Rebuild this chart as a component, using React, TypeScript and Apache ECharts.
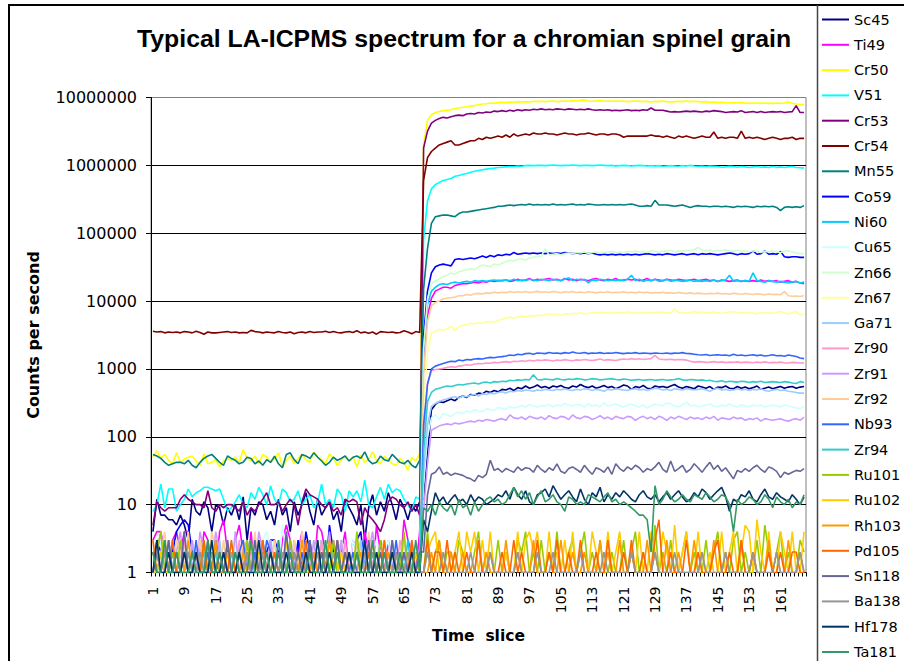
import React, { useEffect, useRef } from "react";
import * as echarts from "echarts";

// Time slices 1..167 (background acquisition up to slice 69, ablation from slice 70)
const timeSlices: string[] = Array.from({ length: 167 }, (_, i) => String(i + 1));

const sc45 = [
  4, 12, 7, 7, 6, 6, 5, 7, 5, 3,
  12, 8, 7, 11, 9, 4, 10, 9, 5, 9,
  7, 10, 6, 13, 3, 9, 7, 11, 10, 6,
  8, 5, 12, 7, 9, 4, 11, 7, 10, 15,
  8, 5, 12, 7, 9, 11, 6, 8, 4, 12,
  9, 7, 5, 10, 3, 9, 14, 7, 11, 8,
  15, 10, 6, 12, 9, 6, 10, 8, 11,
  12, 60, 250, 300, 330, 320, 340, 360, 340, 380,
  400, 380, 420, 410, 440, 430, 470, 450, 480, 460,
  500, 490, 520, 480, 530, 510, 560, 520, 540, 580,
  530, 550, 520, 560, 540, 570, 530, 520, 560, 540,
  590, 550, 530, 560, 520, 540, 570, 530, 550, 510,
  540, 580, 560, 500, 550, 530, 570, 520, 510, 560,
  540, 550, 530, 560, 590, 540, 520, 550, 530, 510,
  560, 540, 520, 550, 500, 540, 530, 560, 520, 510,
  550, 520, 540, 510, 530, 560, 500, 520, 540, 510,
  530, 550, 520, 540, 550, 520, 540, 550,
];

const ti49 = [
  3, 4, 4, 2, 1, 3, 4, 2, 4, 4,
  1, 2, 1, 4, 3, 1, 1, 4, 6, 2,
  1, 3, 5, 2, 1, 4, 1, 2, 3, 1,
  1, 2, 1, 3, 5, 3, 1, 2, 4, 1,
  2, 1, 5, 4, 2, 1, 3, 1, 2, 4,
  1, 3, 2, 1, 4, 2, 1, 5, 2, 1,
  3, 1, 2, 1, 6, 3, 2, 1, 4,
  1500, 6000, 11000, 14000, 15000, 16000, 16000, 15500, 17000, 17500,
  18000, 18000, 18500, 19000, 18500, 19500, 19000, 20000, 19500, 20000,
  20000, 20500, 19500, 20000, 21000, 20000, 20500, 21500, 20000, 21000,
  20500, 21000, 21500, 20500, 21000, 20000, 21500, 20500, 21000, 20000,
  21000, 20500, 20000, 21000, 21500, 20500, 20000, 21000, 20500, 21500,
  20000, 20500, 21000, 20500, 21000, 20000, 20500, 21500, 20000, 21000,
  20500, 20000, 21000, 20500, 20000, 21000, 20500, 20000, 20500, 21000,
  20000, 20500, 21000, 20000, 20500, 19500, 20500, 20000, 19500, 20000,
  20500, 19500, 20000, 19500, 20000, 19500, 20500, 19500, 20000, 19500,
  20000, 19000, 19500, 20000, 19000, 19500, 18500, 18000,
];

const cr50 = [
  50, 62, 48, 55, 45, 40, 58, 42, 47, 50,
  52, 44, 38, 56, 40, 42, 46, 36, 44, 48,
  45, 50, 42, 65, 48, 44, 52, 40, 55, 50,
  42, 47, 58, 36, 45, 52, 40, 48, 55, 46,
  42, 60, 50, 46, 40, 56, 48, 38, 45, 52,
  44, 50, 36, 54, 42, 47, 60, 45, 40, 52,
  46, 40, 38, 48, 42, 32, 50, 44, 56,
  2.0e6, 4.6e6, 5.6e6, 6.0e6, 6.2e6, 6.4e6, 6.5e6, 6.6e6, 6.9e6, 7.0e6,
  7.2e6, 7.3e6, 7.5e6, 7.6e6, 7.8e6, 8.0e6, 8.1e6, 8.3e6, 8.2e6, 8.4e6,
  8.5e6, 8.4e6, 8.6e6, 8.5e6, 8.7e6, 8.6e6, 8.7e6, 8.6e6, 8.8e6, 8.7e6,
  8.8e6, 8.7e6, 8.8e6, 8.9e6, 8.7e6, 8.8e6, 8.9e6, 8.8e6, 9.0e6, 8.9e6,
  9.1e6, 9.2e6, 8.9e6, 8.8e6, 8.9e6, 9.0e6, 8.8e6, 8.9e6, 8.8e6, 8.9e6,
  8.8e6, 8.9e6, 8.7e6, 8.8e6, 8.9e6, 8.8e6, 8.7e6, 8.8e6, 8.6e6, 8.8e6,
  8.7e6, 8.9e6, 8.7e6, 8.6e6, 8.7e6, 8.8e6, 8.7e6, 8.9e6, 8.7e6, 8.8e6,
  8.7e6, 8.6e6, 8.7e6, 8.5e6, 8.6e6, 8.4e6, 8.5e6, 8.4e6, 8.3e6, 8.4e6,
  8.3e6, 8.4e6, 8.3e6, 8.2e6, 8.3e6, 8.3e6, 8.2e6, 8.3e6, 8.2e6, 8.2e6,
  8.3e6, 8.2e6, 8.3e6, 8.6e6, 8.2e6, 8.0e6, 7.9e6, 7.9e6,
];

const v51 = [
  8, 10, 20, 9, 17, 17, 8, 10, 12, 17,
  13, 15, 16, 18, 18, 17, 16, 17, 12, 8,
  9, 11, 14, 10, 9, 15, 12, 18, 14, 10,
  19, 12, 10, 17, 15, 11, 12, 16, 10, 12,
  14, 9, 11, 20, 10, 12, 9, 17, 14, 8,
  16, 13, 16, 11, 23, 10, 9, 13, 18, 12,
  20, 15, 17, 16, 12, 10, 8, 13, 12,
  8e4, 3.0e5, 4.5e5, 5.2e5, 5.6e5, 6.0e5, 6.2e5, 6.4e5, 6.9e5, 7.1e5,
  7.4e5, 7.6e5, 7.9e5, 8.2e5, 8.4e5, 8.6e5, 8.8e5, 9.0e5, 9.1e5, 9.3e5,
  9.4e5, 9.5e5, 9.6e5, 9.6e5, 9.8e5, 9.7e5, 9.9e5, 1.0e6, 9.9e5, 1.0e6,
  1.0e6, 9.9e5, 1.0e6, 1.01e6, 1.0e6, 9.9e5, 1.0e6, 1.0e6, 1.01e6, 1.0e6,
  9.9e5, 1.0e6, 1.0e6, 9.9e5, 1.0e6, 1.01e6, 1.0e6, 9.9e5, 1.0e6, 9.8e5,
  9.9e5, 1.0e6, 9.9e5, 9.8e5, 9.9e5, 1.0e6, 9.9e5, 9.8e5, 9.9e5, 9.8e5,
  9.9e5, 9.7e5, 9.8e5, 9.9e5, 9.8e5, 9.7e5, 9.9e5, 9.8e5, 1.0e6, 9.8e5,
  9.7e5, 9.8e5, 9.6e5, 9.8e5, 9.7e5, 9.6e5, 9.4e5, 9.5e5, 9.7e5, 9.6e5,
  9.4e5, 9.6e5, 9.5e5, 9.3e5, 9.5e5, 9.6e5, 9.4e5, 9.5e5, 9.3e5, 9.6e5,
  9.4e5, 9.5e5, 9.3e5, 9.5e5, 9.6e5, 9.3e5, 9.2e5, 9.1e5,
];

const cr53 = [
  5, 11, 9, 8, 9, 9, 9, 12, 14, 12,
  11, 10, 10, 9, 16, 9, 8, 10, 9, 10,
  10, 9, 8, 11, 7, 9, 8, 10, 12, 15,
  10, 10, 11, 8, 10, 12, 10, 5, 11, 17,
  14, 13, 12, 10, 9, 11, 8, 9, 7, 12,
  11, 12, 11, 5, 9, 7, 6, 5, 4, 6,
  11, 13, 12, 10, 9, 11, 8, 10, 7,
  1.8e6, 3.2e6, 4.2e6, 4.6e6, 4.9e6, 5.1e6, 5.0e6, 5.2e6, 5.4e6, 5.5e6,
  5.4e6, 5.7e6, 5.8e6, 5.7e6, 6.0e6, 5.9e6, 6.1e6, 6.0e6, 6.3e6, 6.2e6,
  6.4e6, 6.2e6, 6.5e6, 6.3e6, 6.6e6, 6.4e6, 6.6e6, 6.5e6, 6.7e6, 6.6e6,
  6.8e6, 6.6e6, 6.7e6, 6.6e6, 6.8e6, 6.7e6, 6.6e6, 6.8e6, 6.7e6, 6.6e6,
  6.7e6, 6.6e6, 6.8e6, 6.6e6, 6.5e6, 6.6e6, 6.5e6, 6.6e6, 6.4e6, 6.5e6,
  6.4e6, 6.5e6, 6.6e6, 6.4e6, 6.5e6, 6.4e6, 6.6e6, 6.5e6, 7.0e6, 6.5e6,
  6.5e6, 6.5e6, 6.3e6, 6.1e6, 6.2e6, 6.1e6, 6.2e6, 6.3e6, 6.2e6, 6.3e6,
  6.2e6, 6.1e6, 6.3e6, 6.2e6, 6.4e6, 6.3e6, 6.2e6, 6.0e6, 6.1e6, 6.2e6,
  6.1e6, 6.4e6, 6.0e6, 6.1e6, 6.2e6, 6.0e6, 6.2e6, 6.0e6, 6.1e6, 6.2e6,
  6.1e6, 6.2e6, 6.0e6, 6.1e6, 6.2e6, 7.6e6, 6.0e6, 6.0e6,
];

const cr54 = [
  3600, 3500, 3550, 3400, 3500, 3450, 3500, 3400, 3550, 3500,
  3400, 3600, 3450, 3250, 3500, 3400, 3400, 3450, 3500, 3550,
  3450, 3500, 3400, 3450, 3400, 3700, 3550, 3500, 3400, 3500,
  3450, 3400, 3550, 3450, 3400, 3500, 3300, 3450, 3500, 3400,
  3550, 3450, 3500, 3500, 3600, 3450, 3550, 3450, 3400, 3500,
  3550, 3450, 3650, 3400, 3500, 3350, 3500, 3250, 3550, 3500,
  3450, 3500, 3400, 3450, 3650, 3500, 3300, 3550, 3450,
  6e5, 1.3e6, 1.6e6, 1.8e6, 2.0e6, 2.1e6, 2.2e6, 2.3e6, 2.0e6, 2.0e6,
  2.1e6, 2.2e6, 2.3e6, 2.3e6, 2.5e6, 2.4e6, 2.6e6, 2.5e6, 2.6e6, 2.7e6,
  2.6e6, 2.8e6, 2.6e6, 2.9e6, 2.7e6, 2.8e6, 2.9e6, 2.8e6, 3.0e6, 2.9e6,
  2.9e6, 3.0e6, 2.9e6, 2.9e6, 2.8e6, 2.9e6, 3.0e6, 2.9e6, 2.9e6, 2.8e6,
  2.9e6, 2.9e6, 3.0e6, 2.9e6, 2.8e6, 2.9e6, 2.9e6, 2.8e6, 2.9e6, 2.9e6,
  2.8e6, 2.6e6, 2.7e6, 2.7e6, 2.7e6, 2.7e6, 2.7e6, 2.7e6, 2.8e6, 2.7e6,
  2.7e6, 2.6e6, 2.7e6, 2.6e6, 2.5e6, 2.7e6, 2.6e6, 2.7e6, 2.6e6, 2.5e6,
  2.6e6, 2.7e6, 2.6e6, 2.6e6, 3.1e6, 2.5e6, 2.6e6, 2.5e6, 2.6e6, 2.6e6,
  2.5e6, 3.2e6, 2.5e6, 2.6e6, 2.5e6, 2.6e6, 2.5e6, 2.4e6, 2.5e6, 2.6e6,
  2.5e6, 2.4e6, 2.5e6, 2.5e6, 2.6e6, 2.4e6, 2.5e6, 2.5e6,
];

const mn55 = [
  55, 52, 48, 42, 38, 40, 42, 42, 40, 45,
  38, 35, 42, 48, 52, 55, 48, 42, 38, 52,
  48, 45, 40, 42, 50, 48, 40, 44, 38, 46,
  42, 52, 40, 35, 55, 58, 46, 40, 55, 52,
  48, 58, 50, 44, 38, 42, 50, 45, 48, 52,
  44, 50, 52, 48, 60, 45, 40, 42, 52, 46,
  44, 55, 48, 42, 40, 45, 38, 35, 45,
  1.5e4, 6e4, 1.4e5, 1.75e5, 1.8e5, 1.85e5, 1.85e5, 1.8e5, 1.75e5, 1.95e5,
  2.05e5, 2.05e5, 2.1e5, 2.15e5, 2.2e5, 2.25e5, 2.3e5, 2.35e5, 2.4e5, 2.5e5,
  2.5e5, 2.55e5, 2.6e5, 2.55e5, 2.6e5, 2.65e5, 2.6e5, 2.7e5, 2.6e5, 2.65e5,
  2.6e5, 2.65e5, 2.6e5, 2.7e5, 2.6e5, 2.65e5, 2.6e5, 2.65e5, 2.7e5, 2.6e5,
  2.65e5, 2.6e5, 2.7e5, 2.65e5, 2.6e5, 2.6e5, 2.65e5, 2.6e5, 2.65e5, 2.6e5,
  2.65e5, 2.6e5, 2.65e5, 2.7e5, 2.6e5, 2.5e5, 2.5e5, 2.55e5, 2.5e5, 3.05e5,
  2.6e5, 2.6e5, 2.6e5, 2.55e5, 2.5e5, 2.55e5, 2.6e5, 2.5e5, 2.4e5, 2.5e5,
  2.55e5, 2.5e5, 2.5e5, 2.45e5, 2.5e5, 2.5e5, 2.45e5, 2.5e5, 2.45e5, 2.4e5,
  2.5e5, 2.45e5, 2.5e5, 2.45e5, 2.4e5, 2.5e5, 2.45e5, 2.5e5, 2.45e5, 2.5e5,
  2.4e5, 2.15e5, 2.4e5, 2.45e5, 2.4e5, 2.45e5, 2.4e5, 2.55e5,
];

const co59 = [
  1, 3, 2, 1, 1, 2, 4, 5, 6, 5,
  2, 1, 3, 1, 2, 1, 1, 2, 1, 1,
  1, 2, 1, 1, 3, 1, 2, 1, 1, 2,
  3, 3, 2, 1, 1, 2, 1, 3, 1, 4,
  2, 1, 1, 3, 1, 5, 2, 1, 3, 1,
  2, 1, 3, 4, 1, 2, 2, 1, 3, 1,
  2, 1, 1, 2, 1, 1, 2, 1, 1,
  3000, 1.4e4, 2.6e4, 3.2e4, 3.4e4, 3.5e4, 3.4e4, 3.3e4, 4.1e4, 4.2e4,
  4.1e4, 4.2e4, 4.3e4, 4.2e4, 4.4e4, 4.6e4, 4.4e4, 4.7e4, 4.5e4, 4.8e4,
  4.7e4, 4.9e4, 4.8e4, 5.2e4, 4.9e4, 5.0e4, 5.1e4, 5.0e4, 5.1e4, 5.0e4,
  5.1e4, 5.0e4, 5.1e4, 5.0e4, 5.1e4, 5.0e4, 5.2e4, 5.1e4, 5.0e4, 5.1e4,
  5.0e4, 5.1e4, 5.0e4, 5.1e4, 4.9e4, 4.8e4, 4.9e4, 4.8e4, 4.9e4, 4.8e4,
  4.9e4, 4.8e4, 4.9e4, 4.8e4, 4.9e4, 4.8e4, 4.9e4, 5.0e4, 4.9e4, 4.8e4,
  4.9e4, 4.8e4, 5.0e4, 4.9e4, 4.8e4, 4.9e4, 5.0e4, 4.8e4, 4.9e4, 5.0e4,
  4.8e4, 5.0e4, 4.9e4, 5.0e4, 4.9e4, 4.8e4, 4.9e4, 5.0e4, 5.1e4, 5.0e4,
  4.8e4, 5.0e4, 4.9e4, 5.0e4, 5.5e4, 4.9e4, 5.0e4, 5.5e4, 4.9e4, 5.0e4,
  4.9e4, 5.4e4, 4.5e4, 4.4e4, 4.5e4, 4.5e4, 4.4e4, 4.4e4,
];

const ni60 = [
  1, 2, 1, 1, 3, 1, 1, 2, 1, 1,
  2, 1, 1, 1, 2, 1, 3, 1, 1, 2,
  1, 1, 2, 1, 1, 1, 2, 1, 3, 1,
  1, 2, 1, 1, 1, 2, 1, 1, 2, 1,
  3, 1, 1, 2, 1, 1, 1, 2, 1, 1,
  2, 1, 1, 3, 1, 2, 1, 1, 1, 2,
  1, 1, 2, 1, 1, 3, 1, 1, 2,
  2000, 9000, 1.4e4, 1.6e4, 1.75e4, 1.8e4, 1.75e4, 1.85e4, 1.9e4, 1.85e4,
  1.9e4, 1.95e4, 1.9e4, 2.0e4, 1.95e4, 2.0e4, 1.95e4, 2.0e4, 2.05e4, 2.0e4,
  2.0e4, 2.05e4, 2.0e4, 2.1e4, 2.0e4, 2.05e4, 2.0e4, 2.1e4, 2.05e4, 2.0e4,
  2.1e4, 2.05e4, 2.0e4, 2.1e4, 2.05e4, 2.0e4, 2.1e4, 2.2e4, 2.0e4, 2.1e4,
  2.05e4, 2.1e4, 1.85e4, 2.05e4, 2.0e4, 2.1e4, 2.05e4, 2.0e4, 2.05e4, 2.0e4,
  2.05e4, 2.0e4, 2.1e4, 2.4e4, 2.0e4, 2.1e4, 1.95e4, 2.05e4, 2.0e4, 2.1e4,
  1.95e4, 2.0e4, 2.1e4, 1.95e4, 2.05e4, 2.0e4, 1.95e4, 2.0e4, 2.05e4, 1.95e4,
  2.0e4, 1.95e4, 2.0e4, 1.95e4, 2.05e4, 1.95e4, 2.0e4, 2.05e4, 2.4e4, 1.95e4,
  2.0e4, 1.95e4, 2.0e4, 1.95e4, 2.6e4, 2.0e4, 1.95e4, 1.9e4, 2.0e4, 1.95e4,
  1.9e4, 1.95e4, 1.9e4, 1.85e4, 1.9e4, 1.95e4, 1.85e4, 1.9e4,
];

const cu65 = [
  1, 2, 3, 1, 2, 1, 3, 2, 1, 1,
  2, 1, 3, 1, 2, 3, 1, 1, 2, 1,
  3, 2, 1, 2, 1, 3, 1, 2, 3, 4,
  2, 3, 1, 5, 2, 3, 1, 2, 1, 3,
  1, 2, 3, 1, 2, 3, 1, 1, 3, 2,
  1, 3, 2, 1, 3, 1, 2, 3, 1, 2,
  3, 1, 1, 2, 3, 1, 2, 1, 1,
  20, 100, 190, 210, 180, 220, 210, 200, 220, 230,
  220, 240, 230, 250, 240, 235, 260, 250, 245, 270,
  260, 255, 280, 265, 275, 290, 275, 300, 285, 275,
  290, 285, 300, 275, 295, 285, 310, 295, 285, 300,
  295, 275, 305, 285, 295, 275, 320, 285, 295, 305,
  285, 275, 295, 305, 285, 275, 295, 265, 285, 305,
  295, 285, 315, 305, 285, 275, 295, 325, 285, 295,
  275, 285, 295, 305, 285, 275, 295, 285, 305, 285,
  275, 295, 285, 275, 295, 285, 295, 275, 285, 295,
  285, 275, 295, 285, 275, 265, 260, 280,
];

const zn66 = [
  2, 1, 1, 3, 1, 2, 1, 1, 2, 3,
  1, 1, 2, 1, 3, 1, 2, 1, 1, 2,
  1, 3, 1, 1, 2, 1, 1, 3, 1, 2,
  1, 1, 2, 1, 3, 1, 2, 1, 1, 2,
  1, 2, 1, 3, 1, 1, 2, 1, 3, 1,
  2, 1, 1, 2, 1, 3, 1, 1, 2, 1,
  1, 2, 1, 1, 3, 1, 2, 1, 1,
  2000, 1.1e4, 1.8e4, 2.0e4, 2.1e4, 2.3e4, 2.4e4, 2.6e4, 2.5e4, 2.7e4,
  2.8e4, 2.9e4, 3.0e4, 2.9e4, 3.2e4, 3.4e4, 3.3e4, 3.2e4, 3.5e4, 3.4e4,
  3.6e4, 3.8e4, 4.0e4, 3.9e4, 4.1e4, 4.2e4, 4.0e4, 4.3e4, 4.4e4, 4.5e4,
  4.6e4, 5.9e4, 4.8e4, 4.9e4, 5.0e4, 4.8e4, 5.0e4, 5.1e4, 5.0e4, 5.2e4,
  5.1e4, 5.3e4, 5.0e4, 5.2e4, 5.3e4, 5.1e4, 5.2e4, 5.3e4, 5.4e4, 5.2e4,
  5.3e4, 5.2e4, 5.4e4, 5.3e4, 5.5e4, 5.3e4, 5.4e4, 5.2e4, 5.5e4, 5.4e4,
  5.3e4, 5.5e4, 5.4e4, 5.6e4, 5.3e4, 5.5e4, 5.4e4, 5.6e4, 5.5e4, 5.7e4,
  6.2e4, 5.6e4, 5.5e4, 5.7e4, 5.4e4, 5.6e4, 5.5e4, 5.7e4, 5.5e4, 5.4e4,
  5.6e4, 5.4e4, 5.5e4, 5.3e4, 5.5e4, 5.4e4, 5.2e4, 5.4e4, 5.3e4, 5.5e4,
  5.3e4, 5.2e4, 5.4e4, 5.5e4, 5.3e4, 5.1e4, 5.0e4, 5.0e4,
];

const zn67 = [
  1, 1, 2, 1, 1, 1, 2, 1, 1, 1,
  1, 2, 1, 1, 1, 1, 2, 1, 1, 1,
  2, 1, 1, 1, 1, 2, 1, 1, 1, 1,
  1, 1, 2, 1, 1, 1, 1, 2, 1, 1,
  1, 2, 1, 1, 1, 1, 1, 2, 1, 1,
  1, 1, 2, 1, 1, 2, 1, 1, 1, 1,
  2, 1, 1, 1, 2, 1, 1, 1, 1,
  300, 1800, 3400, 3600, 3800, 3700, 3900, 4300, 3700, 4200,
  4400, 4500, 4700, 4600, 4800, 4700, 4900, 5000, 4900, 5200,
  5400, 5600, 5800, 5600, 5900, 6000, 5800, 6100, 6000, 6200,
  6100, 6300, 6500, 6300, 6400, 6200, 6500, 6400, 6600, 6500,
  6700, 6500, 6600, 6800, 6700, 6900, 6700, 6800, 6600, 6700,
  6800, 6700, 6900, 6700, 6600, 6800, 6700, 6600, 6800, 6700,
  6900, 6800, 6700, 6600, 7700, 6700, 6800, 6600, 6800, 7000,
  6700, 6900, 6800, 6700, 6900, 6700, 6600, 6800, 6900, 7000,
  6800, 6700, 6600, 6800, 6700, 6500, 6800, 6600, 6700, 6600,
  6800, 7000, 6700, 6500, 6800, 7000, 6200, 6500,
];

const ga71 = [
  1, 1, 2, 1, 3, 1, 1, 2, 1, 1,
  3, 1, 2, 1, 1, 2, 1, 3, 1, 1,
  2, 1, 1, 1, 2, 1, 3, 1, 1, 2,
  1, 1, 3, 1, 2, 1, 1, 2, 1, 3,
  1, 2, 1, 1, 3, 1, 1, 2, 1, 1,
  2, 1, 1, 3, 1, 2, 1, 1, 2, 1,
  1, 3, 1, 2, 1, 1, 2, 1, 1,
  30, 150, 280, 310, 330, 350, 360, 380, 390, 370,
  400, 390, 410, 420, 400, 430, 420, 440, 430, 450,
  460, 440, 470, 460, 480, 470, 490, 480, 470, 490,
  480, 500, 490, 480, 500, 490, 510, 490, 480, 500,
  490, 510, 500, 480, 500, 490, 470, 500, 490, 510,
  500, 490, 480, 500, 510, 490, 500, 480, 500, 520,
  510, 490, 500, 480, 510, 500, 490, 510, 500, 490,
  500, 510, 490, 470, 500, 520, 490, 500, 480, 490,
  510, 490, 500, 480, 500, 490, 510, 480, 470, 490,
  500, 480, 490, 470, 460, 450, 440, 440,
];

const zr90 = [
  1, 2, 1, 3, 1, 1, 2, 1, 3, 1,
  1, 2, 1, 1, 3, 1, 2, 1, 1, 2,
  1, 1, 3, 1, 1, 2, 1, 1, 2, 1,
  3, 1, 1, 2, 1, 1, 3, 1, 2, 1,
  1, 2, 1, 3, 1, 1, 1, 2, 1, 3,
  1, 1, 2, 1, 1, 3, 1, 2, 1, 1,
  2, 1, 1, 3, 1, 2, 1, 1, 2,
  100, 600, 950, 980, 1000, 1020, 1050, 1080, 1060, 1100,
  1120, 1150, 1130, 1180, 1200, 1190, 1220, 1210, 1250, 1230,
  1260, 1280, 1250, 1300, 1290, 1320, 1300, 1340, 1310, 1350,
  1330, 1360, 1340, 1310, 1350, 1330, 1370, 1340, 1320, 1360,
  1340, 1380, 1350, 1330, 1360, 1400, 1340, 1370, 1350, 1330,
  1370, 1400, 1380, 1420, 1390, 1410, 1380, 1400, 1420, 1580,
  1400, 1380, 1370, 1390, 1360, 1380, 1370, 1350, 1300, 1260,
  1280, 1270, 1250, 1260, 1280, 1250, 1270, 1240, 1260, 1250,
  1270, 1240, 1260, 1250, 1230, 1260, 1240, 1270, 1230, 1250,
  1240, 1260, 1230, 1220, 1250, 1240, 1220, 1230,
];

const zr91 = [
  1, 2, 4, 1, 3, 1, 2, 4, 1, 1,
  3, 1, 4, 2, 1, 1, 4, 2, 1, 3,
  1, 4, 1, 2, 3, 1, 1, 4, 2, 1,
  3, 1, 2, 1, 4, 1, 3, 1, 2, 1,
  1, 3, 1, 2, 1, 4, 1, 1, 3, 1,
  2, 1, 3, 1, 1, 2, 4, 1, 2, 1,
  1, 3, 1, 2, 1, 1, 3, 1, 2,
  8, 40, 125, 135, 145, 150, 155, 150, 160, 155,
  160, 165, 170, 165, 175, 170, 180, 175, 170, 180,
  185, 175, 210, 190, 185, 195, 180, 200, 190, 185,
  195, 180, 205, 190, 185, 200, 195, 180, 210, 190,
  185, 200, 195, 180, 190, 205, 185, 195, 180, 200,
  190, 185, 200, 195, 175, 190, 200, 185, 195, 180,
  200, 190, 175, 195, 185, 200, 190, 180, 195, 185,
  190, 180, 195, 185, 200, 175, 190, 185, 180, 195,
  185, 190, 175, 185, 180, 190, 170, 185, 180, 175,
  180, 185, 175, 170, 180, 185, 175, 195,
];

const zr92 = [
  3, 1, 2, 4, 1, 1, 3, 2, 1, 4,
  1, 2, 3, 1, 1, 4, 2, 1, 3, 1,
  2, 1, 1, 3, 2, 1, 4, 1, 1, 2,
  1, 3, 1, 2, 1, 1, 3, 1, 4, 1,
  2, 1, 3, 1, 1, 2, 1, 3, 1, 2,
  1, 1, 3, 2, 1, 4, 1, 1, 2, 3,
  1, 2, 1, 1, 3, 1, 2, 1, 1,
  800, 5000, 8500, 9500, 1.0e4, 1.08e4, 1.1e4, 1.12e4, 1.15e4, 1.2e4,
  1.2e4, 1.25e4, 1.22e4, 1.28e4, 1.3e4, 1.27e4, 1.32e4, 1.3e4, 1.35e4, 1.32e4,
  1.35e4, 1.33e4, 1.38e4, 1.34e4, 1.37e4, 1.35e4, 1.38e4, 1.34e4, 1.36e4, 1.39e4,
  1.35e4, 1.37e4, 1.34e4, 1.38e4, 1.36e4, 1.33e4, 1.37e4, 1.35e4, 1.38e4, 1.34e4,
  1.36e4, 1.33e4, 1.37e4, 1.35e4, 1.32e4, 1.36e4, 1.34e4, 1.37e4, 1.33e4, 1.35e4,
  1.34e4, 1.37e4, 1.33e4, 1.35e4, 1.32e4, 1.36e4, 1.33e4, 1.35e4, 1.31e4, 1.34e4,
  1.32e4, 1.35e4, 1.31e4, 1.33e4, 1.3e4, 1.34e4, 1.31e4, 1.29e4, 1.32e4, 1.28e4,
  1.31e4, 1.29e4, 1.27e4, 1.3e4, 1.28e4, 1.31e4, 1.27e4, 1.29e4, 1.26e4, 1.3e4,
  1.28e4, 1.26e4, 1.29e4, 1.27e4, 1.25e4, 1.28e4, 1.26e4, 1.24e4, 1.27e4, 1.25e4,
  1.26e4, 1.24e4, 1.38e4, 1.2e4, 1.18e4, 1.19e4, 1.17e4, 1.2e4,
];

const nb93 = [
  2, 1, 1, 3, 1, 2, 1, 1, 2, 1,
  1, 3, 1, 1, 2, 1, 3, 1, 2, 1,
  1, 1, 2, 3, 1, 1, 2, 1, 1, 3,
  2, 1, 1, 2, 1, 3, 1, 1, 2, 1,
  3, 1, 2, 1, 1, 2, 1, 3, 1, 1,
  1, 2, 1, 1, 3, 1, 2, 1, 1, 2,
  1, 1, 3, 1, 2, 1, 1, 2, 1,
  150, 600, 1000, 1100, 1150, 1200, 1250, 1300, 1280, 1350,
  1320, 1380, 1360, 1400, 1420, 1400, 1450, 1480, 1460, 1500,
  1520, 1550, 1600, 1580, 1650, 1620, 1680, 1700, 1650, 1720,
  1700, 1680, 1750, 1700, 1720, 1680, 1740, 1700, 1780, 1720,
  1700, 1750, 1680, 1720, 1700, 1740, 1690, 1720, 1700, 1750,
  1710, 1680, 1720, 1700, 1740, 1690, 1710, 1700, 1680, 1720,
  1700, 1690, 1720, 1680, 1710, 1700, 1740, 1690, 1680, 1650,
  1620, 1600, 1630, 1580, 1600, 1620, 1590, 1600, 1560, 1640,
  1580, 1600, 1560, 1590, 1620, 1570, 1600, 1550, 1580, 1620,
  1560, 1580, 1540, 1600, 1560, 1520, 1450, 1420,
];

const zr94 = [
  1, 1, 2, 1, 1, 1, 2, 1, 1, 2,
  1, 1, 1, 2, 1, 1, 2, 1, 1, 1,
  2, 1, 1, 1, 2, 1, 1, 1, 2, 1,
  1, 2, 1, 1, 1, 1, 2, 1, 1, 2,
  1, 1, 1, 2, 1, 1, 2, 1, 1, 1,
  2, 1, 1, 1, 2, 1, 1, 2, 1, 1,
  1, 2, 1, 1, 1, 2, 1, 1, 2,
  60, 330, 450, 500, 520, 540, 560, 550, 570, 590,
  580, 600, 610, 620, 600, 630, 640, 620, 650, 640,
  660, 650, 680, 670, 690, 680, 700, 690, 820, 700,
  690, 710, 700, 690, 720, 700, 690, 710, 700, 720,
  710, 690, 700, 720, 710, 690, 700, 710, 720, 700,
  690, 710, 700, 680, 690, 700, 680, 690, 700, 680,
  690, 700, 680, 690, 700, 720, 690, 680, 700, 690,
  680, 690, 670, 680, 660, 650, 670, 640, 660, 650,
  640, 660, 650, 630, 650, 640, 660, 630, 640, 650,
  640, 630, 650, 640, 620, 610, 650, 630,
];

const ru101 = [
  1, 2, 4, 1, 1, 2, 1, 3, 1, 1,
  2, 1, 1, 3, 1, 2, 1, 1, 1, 2,
  1, 1, 2, 1, 3, 1, 1, 2, 1, 1,
  1, 2, 1, 1, 1, 3, 1, 2, 1, 1,
  2, 1, 1, 1, 2, 1, 3, 1, 1, 2,
  1, 1, 4, 1, 1, 2, 1, 1, 3, 1,
  1, 2, 1, 1, 4, 1, 2, 1, 1,
  1, 4, 1, 2, 3, 1, 2, 2, 1, 3,
  2, 1, 1, 2, 4, 1, 2, 1, 1, 3,
  1, 2, 1, 1, 3, 2, 4, 1, 2, 1,
  3, 1, 2, 1, 4, 1, 1, 2, 3, 1,
  2, 4, 1, 2, 1, 3, 1, 1, 2, 1,
  1, 3, 1, 2, 4, 1, 2, 1, 1, 5,
  1, 2, 1, 3, 1, 1, 2, 4, 1, 2,
  1, 1, 3, 1, 2, 4, 1, 2, 1, 3,
  4, 1, 2, 1, 1, 3, 1, 5, 2, 1,
  2, 4, 1, 2, 1, 1, 3, 2,
];

const ru102 = [
  1, 1, 2, 1, 1, 1, 2, 1, 1, 1,
  1, 2, 1, 1, 1, 1, 1, 2, 1, 1,
  1, 1, 2, 1, 1, 1, 1, 2, 1, 1,
  1, 2, 1, 1, 3, 1, 1, 1, 1, 2,
  1, 1, 1, 2, 1, 1, 1, 1, 2, 1,
  1, 1, 2, 1, 1, 1, 1, 1, 2, 1,
  1, 1, 1, 2, 1, 1, 1, 2, 1,
  1, 2, 3, 4, 1, 2, 1, 1, 2, 4,
  1, 4, 2, 4, 1, 3, 1, 4, 1, 1,
  1, 2, 1, 1, 4, 1, 3, 4, 2, 4,
  1, 1, 4, 1, 2, 1, 3, 1, 4, 1,
  1, 2, 1, 4, 2, 1, 1, 4, 1, 2,
  4, 1, 1, 2, 1, 4, 1, 1, 4, 2,
  1, 4, 2, 1, 5, 1, 2, 4, 1, 1,
  4, 1, 1, 2, 1, 1, 4, 1, 2, 4,
  1, 2, 5, 4, 1, 6, 2, 1, 4, 1,
  1, 4, 2, 1, 4, 1, 1, 4,
];

const rh103 = [
  2, 1, 1, 3, 1, 1, 2, 1, 1, 3,
  1, 1, 2, 1, 1, 1, 3, 1, 1, 2,
  1, 1, 1, 2, 1, 3, 1, 1, 2, 1,
  1, 1, 2, 1, 1, 1, 2, 1, 3, 1,
  1, 2, 1, 1, 1, 3, 1, 1, 1, 2,
  1, 1, 1, 2, 1, 1, 3, 1, 1, 1,
  2, 1, 1, 1, 1, 2, 1, 1, 1,
  1, 1, 2, 1, 3, 1, 1, 2, 1, 1,
  2, 1, 1, 1, 3, 1, 2, 1, 1, 1,
  1, 3, 1, 1, 2, 1, 1, 1, 3, 1,
  1, 1, 2, 1, 1, 3, 1, 1, 2, 1,
  1, 2, 1, 1, 1, 3, 1, 2, 1, 1,
  3, 1, 1, 2, 1, 1, 1, 3, 1, 2,
  1, 1, 3, 1, 1, 2, 1, 1, 1, 3,
  1, 2, 1, 1, 3, 1, 1, 2, 1, 1,
  1, 3, 1, 1, 2, 1, 1, 1, 3, 1,
  2, 1, 1, 3, 1, 1, 2, 1,
];

const pd105 = [
  3, 1, 1, 2, 1, 3, 1, 1, 2, 1,
  1, 2, 1, 3, 1, 1, 1, 2, 1, 1,
  3, 1, 1, 1, 2, 1, 1, 1, 3, 1,
  1, 2, 1, 1, 1, 1, 2, 1, 1, 3,
  1, 1, 1, 2, 1, 1, 1, 3, 1, 1,
  2, 1, 1, 1, 1, 2, 1, 1, 1, 3,
  1, 1, 2, 1, 1, 1, 3, 1, 1,
  1, 3, 1, 2, 2, 1, 3, 1, 2, 1,
  1, 2, 1, 1, 3, 1, 1, 2, 1, 1,
  2, 1, 1, 3, 1, 2, 1, 1, 1, 3,
  1, 1, 2, 1, 3, 1, 1, 2, 1, 1,
  3, 1, 1, 1, 2, 1, 1, 3, 1, 1,
  1, 2, 1, 3, 1, 1, 2, 1, 1, 3,
  6, 1, 1, 2, 1, 1, 1, 3, 1, 1,
  2, 1, 1, 1, 2, 3, 1, 1, 2, 1,
  1, 3, 1, 1, 2, 1, 1, 1, 2, 1,
  1, 2, 1, 1, 2, 2, 1, 1,
];

const sn118 = [
  1, 2, 1, 1, 3, 1, 2, 1, 4, 1,
  1, 2, 1, 1, 3, 1, 1, 2, 1, 3,
  1, 1, 2, 1, 1, 1, 3, 1, 2, 1,
  1, 1, 2, 1, 4, 1, 1, 2, 1, 1,
  3, 1, 1, 2, 1, 1, 1, 3, 1, 2,
  1, 1, 2, 1, 1, 3, 1, 1, 2, 1,
  1, 3, 1, 1, 2, 1, 1, 1, 2,
  2, 14, 28, 30, 36, 28, 30, 27, 29, 28,
  27, 25, 24, 22, 27, 25, 28, 45, 32, 34,
  30, 34, 32, 30, 36, 32, 35, 34, 30, 38,
  33, 30, 35, 32, 40, 31, 29, 34, 36, 33,
  30, 38, 32, 28, 35, 33, 30, 36, 28, 40,
  34, 31, 36, 33, 38, 35, 30, 34, 32, 36,
  42, 33, 30, 44, 31, 34, 38, 30, 33, 40,
  35, 30, 36, 42, 33, 38, 31, 35, 29, 24,
  32, 30, 34, 31, 35, 38, 33, 30, 36, 34,
  31, 25, 30, 28, 30, 32, 31, 34,
];

const ba138 = [
  2, 2, 1, 2, 1, 1, 2, 1, 2, 2,
  1, 1, 2, 1, 1, 2, 1, 1, 2, 1,
  1, 2, 1, 1, 2, 1, 1, 1, 2, 1,
  2, 1, 1, 2, 1, 1, 2, 1, 1, 2,
  1, 1, 2, 1, 2, 1, 1, 2, 1, 1,
  2, 1, 1, 1, 2, 1, 2, 1, 1, 2,
  1, 1, 2, 1, 1, 2, 1, 1, 1,
  1, 2, 1, 1, 1, 2, 1, 1, 1, 1,
  1, 1, 2, 1, 1, 1, 1, 2, 1, 1,
  1, 1, 1, 1, 2, 1, 1, 1, 1, 2,
  1, 1, 1, 2, 1, 1, 1, 1, 1, 1,
  2, 1, 1, 1, 1, 1, 2, 1, 1, 1,
  1, 1, 1, 2, 1, 1, 1, 1, 1, 2,
  1, 1, 1, 1, 2, 1, 1, 1, 1, 1,
  1, 2, 1, 1, 1, 1, 1, 2, 1, 1,
  1, 1, 1, 1, 2, 1, 1, 1, 1, 1,
  2, 1, 1, 1, 1, 1, 2, 1,
];

const hf178 = [
  1, 3, 1, 1, 2, 1, 1, 1, 2, 1,
  1, 2, 1, 1, 1, 3, 1, 1, 2, 1,
  1, 1, 2, 1, 1, 1, 1, 3, 1, 1,
  2, 1, 1, 1, 2, 1, 1, 1, 1, 2,
  1, 1, 3, 1, 1, 2, 1, 1, 1, 1,
  2, 1, 1, 1, 3, 1, 1, 2, 1, 1,
  1, 2, 1, 1, 1, 1, 2, 1, 1,
  6, 4, 8, 15, 11, 13, 10, 12, 14, 11,
  12, 10, 14, 11, 13, 12, 10, 11, 12, 14,
  13, 16, 12, 18, 14, 12, 16, 11, 10, 14,
  15, 17, 13, 19, 15, 12, 14, 16, 13, 11,
  17, 12, 10, 15, 13, 18, 11, 14, 12, 15,
  13, 16, 14, 12, 11, 14, 16, 13, 12, 14,
  11, 13, 15, 12, 14, 16, 13, 11, 12, 15,
  13, 17, 15, 12, 14, 16, 18, 13, 8, 12,
  11, 14, 13, 16, 12, 11, 14, 17, 13, 12,
  15, 13, 12, 11, 14, 12, 10, 13,
];

const ta181 = [
  2, 1, 1, 3, 1, 1, 2, 1, 1, 1,
  2, 1, 1, 1, 3, 1, 1, 2, 1, 1,
  1, 2, 1, 1, 1, 3, 1, 1, 1, 2,
  1, 1, 3, 1, 1, 2, 1, 1, 1, 1,
  2, 1, 1, 1, 3, 1, 1, 2, 1, 1,
  1, 1, 2, 1, 1, 1, 3, 1, 1, 2,
  1, 1, 1, 2, 1, 1, 1, 3, 1,
  9, 8, 10, 7, 11, 9, 8, 10, 7, 12,
  9, 10, 7, 11, 8, 10, 12, 13, 11, 12,
  10, 11, 14, 18, 13, 16, 12, 15, 10, 13,
  16, 11, 12, 14, 11, 10, 8, 13, 12, 10,
  11, 10, 14, 13, 12, 11, 13, 15, 11, 12,
  10, 11, 10, 9, 8, 7, 7, 6, 2, 19,
  10, 12, 16, 13, 11, 12, 14, 12, 11, 14,
  13, 12, 15, 13, 11, 12, 14, 13, 10, 4,
  12, 10, 11, 13, 12, 10, 11, 14, 12, 9,
  13, 11, 10, 12, 9, 11, 10, 14,
];

const isotopes = [
  { name: "Sc45", color: "#000080", data: sc45 },
  { name: "Ti49", color: "#FF00FF", data: ti49 },
  { name: "Cr50", color: "#FFFF00", data: cr50 },
  { name: "V51", color: "#00FFFF", data: v51 },
  { name: "Cr53", color: "#800080", data: cr53 },
  { name: "Cr54", color: "#800000", data: cr54 },
  { name: "Mn55", color: "#008080", data: mn55 },
  { name: "Co59", color: "#0000FF", data: co59 },
  { name: "Ni60", color: "#00CCFF", data: ni60 },
  { name: "Cu65", color: "#CCFFFF", data: cu65 },
  { name: "Zn66", color: "#CCFFCC", data: zn66 },
  { name: "Zn67", color: "#FFFF99", data: zn67 },
  { name: "Ga71", color: "#99CCFF", data: ga71 },
  { name: "Zr90", color: "#FF99CC", data: zr90 },
  { name: "Zr91", color: "#CC99FF", data: zr91 },
  { name: "Zr92", color: "#FFCC99", data: zr92 },
  { name: "Nb93", color: "#3366FF", data: nb93 },
  { name: "Zr94", color: "#33CCCC", data: zr94 },
  { name: "Ru101", color: "#99CC00", data: ru101 },
  { name: "Ru102", color: "#FFCC00", data: ru102 },
  { name: "Rh103", color: "#FF9900", data: rh103 },
  { name: "Pd105", color: "#FF6600", data: pd105 },
  { name: "Sn118", color: "#666699", data: sn118 },
  { name: "Ba138", color: "#969696", data: ba138 },
  { name: "Hf178", color: "#003366", data: hf178 },
  { name: "Ta181", color: "#339966", data: ta181 },
];

const AXIS_FONT = "DejaVu Sans";

export default function App() {
  const ref = useRef<HTMLDivElement>(null);

  useEffect(() => {
    if (!ref.current) return;
    const chart = echarts.init(ref.current, null, { renderer: "svg" });
    chart.setOption({
      animation: false,
      backgroundColor: "#ffffff",
      textStyle: { fontFamily: AXIS_FONT, color: "#000" },
      title: {
        text: "Typical LA-ICPMS spectrum for a chromian spinel grain",
        left: 137,
        top: 26,
        padding: 0,
        textStyle: {
          fontFamily: "Liberation Sans",
          fontWeight: "bold",
          fontSize: 24.8,
          color: "#000",
        },
      },
      legend: {
        orient: "vertical",
        left: 822,
        top: 10.5,
        height: 760,
        padding: 0,
        itemGap: 7.3,
        itemWidth: 27,
        itemHeight: 2,
        icon: "rect",
        selectedMode: false,
        textStyle: { fontFamily: AXIS_FONT, fontSize: 14.5, lineHeight: 18, color: "#000" },
        data: isotopes.map((s) => s.name),
      },
      grid: {
        left: 151,
        right: 98,
        top: 97.5,
        bottom: 88.5,
        show: true,
        borderColor: "#808080",
        borderWidth: 1,
      },
      xAxis: {
        type: "category",
        data: timeSlices,
        boundaryGap: true,
        name: "Time  slice",
        nameLocation: "middle",
        nameGap: 55,
        nameTextStyle: { fontFamily: AXIS_FONT, fontWeight: "bold", fontSize: 15.5, color: "#000" },
        axisLine: { show: true, lineStyle: { color: "#000", width: 1 } },
        axisTick: { show: true, interval: 0, length: 4, lineStyle: { color: "#000", width: 1 } },
        axisLabel: { interval: 7, rotate: 90, margin: 14, fontSize: 14, color: "#000", fontFamily: AXIS_FONT },
        splitLine: { show: false },
      },
      yAxis: {
        type: "log",
        logBase: 10,
        min: 1,
        max: 10000000,
        splitNumber: 7,
        name: "Counts per second",
        nameLocation: "middle",
        nameGap: 110,
        nameTextStyle: { fontFamily: AXIS_FONT, fontWeight: "bold", fontSize: 16, color: "#000" },
        axisLine: { show: true, lineStyle: { color: "#000", width: 1 } },
        axisTick: { show: true, length: 5, lineStyle: { color: "#000", width: 1 } },
        axisLabel: {
          margin: 14,
          fontSize: 16,
          color: "#000",
          fontFamily: AXIS_FONT,
          formatter: (v: number) => String(Math.round(v)),
        },
        splitLine: {
          show: true,
          lineStyle: {
            color: ["#000", "#000", "#000", "#000", "#000", "#000", "#000", "#808080"],
            width: 1,
          },
        },
        minorTick: { show: false },
      },
      graphic: [
        {
          type: "rect",
          silent: true,
          z: 100,
          shape: { x: 9, y: 5, width: 1200, height: 1200 },
          style: { fill: "none", stroke: "#000", lineWidth: 2 },
        },
        {
          type: "line",
          silent: true,
          z: 100,
          shape: { x1: 817.5, y1: 5, x2: 817.5, y2: 661 },
          style: { stroke: "#444", lineWidth: 1.5 },
        },
      ],
      series: isotopes.map((s) => ({
        type: "line",
        name: s.name,
        data: s.data,
        showSymbol: false,
        symbol: "none",
        silent: true,
        lineStyle: { width: 1.6, color: s.color },
        itemStyle: { color: s.color },
        emphasis: { disabled: true },
      })),
    });
    return () => chart.dispose();
  }, []);

  return (
    <div
      ref={ref}
      style={{ position: "fixed", left: 0, top: 0, width: 904, height: 661, background: "#fff" }}
    />
  );
}
